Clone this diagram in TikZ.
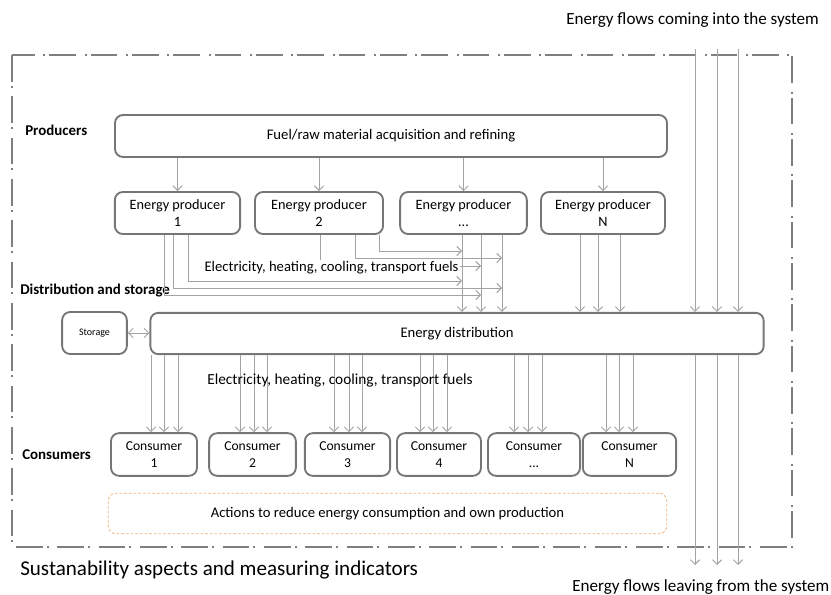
\documentclass[tikz,border=0pt]{standalone}
\usepackage{fontspec}
\setmainfont{Carlito}
\usetikzlibrary{arrows.meta,positioning,calc}
\definecolor{boxgray}{HTML}{767676}
\definecolor{flowgray}{HTML}{A3A3A3}
\definecolor{framegray}{HTML}{7F7F7F}
\definecolor{actorange}{HTML}{EDB27E}

\tikzset{
  box/.style={draw=boxgray,line width=1.4pt,rounded corners=6pt,minimum height=31.5pt,
    align=center,inner sep=1pt,font=\fontsize{10.7}{12.7}\selectfont},
  flow/.style={flowgray,line width=0.7pt,-{Straight Barb[length=3.5pt,width=7pt]}},
  rowlabel/.style={anchor=west,inner sep=0pt,font=\fontsize{11.2}{13}\selectfont\bfseries},
  flowtext/.style={inner sep=1pt,font=\fontsize{11}{13}\selectfont},
  bigtext/.style={inner sep=0pt,font=\fontsize{12.8}{15}\selectfont},
}

\begin{document}
\begin{tikzpicture}[x=0.75pt,y=-0.75pt]
  \useasboundingbox (0,0) rectangle (831,595);

  % system boundary
  \draw[framegray,line width=1.8pt,dash pattern=on 20pt off 3pt on 1.5pt off 6.5pt]
    (12,55) rectangle (792,547);

  % Producers
  \node[rowlabel] (lprod) at (25,130) {Producers};
  \node[box,minimum width=414pt,font=\fontsize{11}{13}\selectfont] (fuel) at (391,136)
    {Fuel/raw material acquisition and refining};
  \node[box,minimum width=94pt] (p1) at (177.5,213) {Energy producer\\1};
  \node[box,minimum width=96pt] (p2) at (319,213) {Energy producer\\2};
  \node[box,minimum width=95pt] (p3) at (463.5,213) {Energy producer\\...};
  \node[box,minimum width=93pt] (pN) at (603,213) {Energy producer\\N};
  \foreach \p in {p1,p2,p3,pN}
    \draw[flow] (fuel.south -| \p.north) -- (\p.north);

  % Distribution and storage
  \node[rowlabel] (ldist) at (20,291) {Distribution and storage};
  \node[box,minimum width=460pt,minimum height=31pt,font=\fontsize{11}{13}\selectfont] (dist)
    at (457,333.5) {Energy distribution};
  \node[box,minimum width=48.5pt,font=\fontsize{7.5}{9}\selectfont] (store) at (94.5,333) {Storage};
  \draw[flowgray,line width=0.7pt,{Straight Barb[length=3.5pt,width=7pt]}-{Straight Barb[length=3.5pt,width=7pt]}]
    (store.east) -- (dist.west |- store.east);

  % producers 1 and 2 routed over to the columns of producer ...
  \foreach \x/\y/\k in {379/251/462, 355/258/502, 320/266/481}
    \draw[flow] (p2.south -| \x,0) |- (\k,\y);
  \foreach \x/\y/\k in {188/281/462, 173/288/502, 164/295/481}
    \draw[flow] (p1.south -| \x,0) |- (\k,\y);
  \node[flowtext,fill=white] (el1) at (331.5,268) {Electricity, heating, cooling, transport fuels};
  \foreach \x in {462,481,502}
    \draw[flow] (p3.south -| \x,0) -- (dist.north -| \x,0);
  \foreach \x in {580,598,620}
    \draw[flow] (pN.south -| \x,0) -- (dist.north -| \x,0);

  % Consumers
  \node[rowlabel] (lcons) at (22,455) {Consumers};
  \tikzset{cons/.style={box,minimum height=32pt,font=\fontsize{10.2}{12.7}\selectfont}}
  \node[cons,minimum width=64.5pt] (c1) at (154,454.5) {Consumer\\1};
  \node[cons,minimum width=65pt] (c2) at (252.5,454.5) {Consumer\\2};
  \node[cons,minimum width=64pt] (c3) at (347.5,454.5) {Consumer\\3};
  \node[cons,minimum width=63pt] (c4) at (439,454.5) {Consumer\\4};
  \node[cons,minimum width=69pt] (c5) at (534,454.5) {Consumer\\...};
  \node[cons,minimum width=70pt] (c6) at (629.5,454.5) {Consumer\\N};
  \foreach \c/\xs in {c1/{151,164,178}, c2/{240,254,267}, c3/{334,349,362},
                      c4/{420,433,447}, c5/{514,528,542}, c6/{606,619,633}}
    \foreach \x in \xs
      \draw[flow] (dist.south -| \x,0) -- (\c.north -| \x,0);
  \node[flowtext,font=\fontsize{11.5}{13}\selectfont] (el2) at (340,380)
    {Electricity, heating, cooling, transport fuels};

  \node[box,draw=actorange,line width=0.6pt,dash pattern=on 2pt off 1.5pt,
    minimum width=419pt,minimum height=30.5pt,font=\fontsize{11}{13}\selectfont] (act)
    at (387.5,513.5) {Actions to reduce energy consumption and own production};

  % flows crossing the boundary
  \node[bigtext,anchor=east] (lin) at (819,20) {Energy flows coming into the system};
  \node[bigtext,anchor=west] (lout) at (572,587) {Energy flows leaving from the system};
  \foreach \x [count=\i] in {695,717,738} {
    \coordinate (in\i) at (\x,49);
    \coordinate (out\i) at (\x,565);
    \draw[flow] (in\i) -- (in\i |- dist.north);
    \draw[flow] (in\i |- dist.south) -- (out\i);
  }

  \node[inner sep=0pt,anchor=west,font=\fontsize{15.8}{18}\selectfont] (lsus) at (20,570)
    {Sustanability aspects and measuring indicators};
\end{tikzpicture}
\end{document}
